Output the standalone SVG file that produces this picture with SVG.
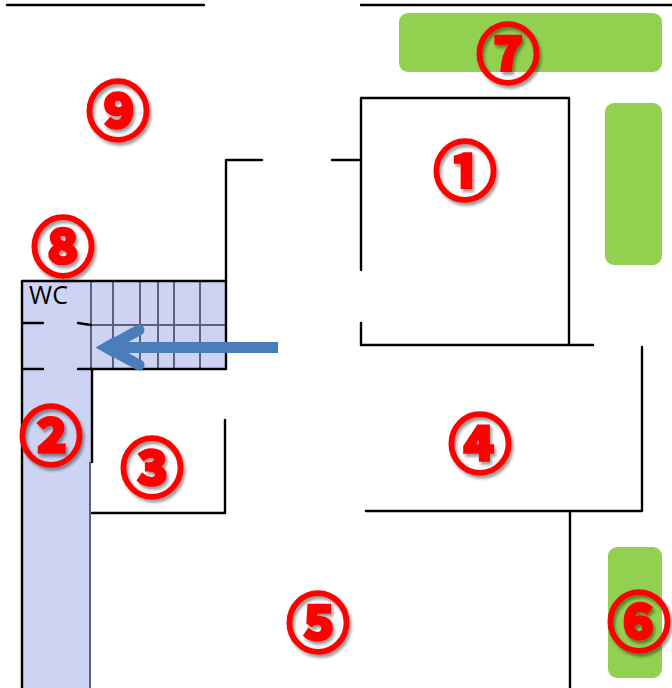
<svg xmlns="http://www.w3.org/2000/svg" width="672" height="688" viewBox="0 0 672 688">
<style>
.w{fill:none;stroke:#000;stroke-width:2.400;stroke-linecap:round;stroke-linejoin:round}
.s{fill:none;stroke:#5f6274;stroke-width:2}
.g{fill:#92d050}
.n{font-family:"Noto Sans CJK JP",sans-serif;font-size:63px;font-weight:700;fill:#ff0000;stroke:#ff0000;stroke-width:3.500;text-anchor:middle;filter:url(#sh)}
</style>
<defs><filter id="sh" x="-20%" y="-20%" width="150%" height="150%"><feDropShadow dx="2" dy="3" stdDeviation="1.5" flood-color="#000" flood-opacity="0.4"/></filter></defs>
<rect width="672" height="688" fill="#fff"/>
<g id="green">
<rect class="g" x="399" y="13" width="263" height="59" rx="9"/>
<rect class="g" x="605" y="103" width="57" height="162" rx="9"/>
<rect class="g" x="608" y="547" width="54" height="131" rx="9"/>
</g>
<g id="corridor">
<rect x="22" y="281" width="69" height="407" fill="#cdd4f3"/>
<rect x="91" y="281" width="134" height="88" fill="#cdd4f3"/>
</g>
<g id="stairs" class="s">
<path d="M91 281V369M113 281V369M140 281V369M158 281V369M174 281V369M200 281V369M91 325H225M90 462V688"/>
</g>
<g id="connectors" class="w">
<path d="M7 5H204M361 5H672"/>
<path d="M361 270V98H569V345M361 323V345H593M642 347V511H366M570 512V688"/>
<path d="M332 160H361M262 160H226V369H78M43 369H22M22 688V281H225M22 323H43M78 323L91 325"/>
<path d="M225 420V513H92M92 369V462"/>
</g>
<g id="arrow" fill="none" stroke="#4a7ebb">
<path d="M278 347.500H112" stroke-width="11"/>
<path d="M139 330L107 347.500L139 365" stroke-width="11" stroke-linecap="round"/>
<path d="M96 347.500L112 338V357Z" fill="#4a7ebb" stroke="none"/>
</g>
<g id="wc"><text x="48.500" y="304" font-family="'Open Sans',sans-serif" font-size="25" fill="#000" text-anchor="middle">WC</text></g>
<g id="n1"><text class="n" x="465" y="194">①</text></g>
<g id="n2"><text class="n" x="51" y="459">②</text></g>
<g id="n3"><text class="n" x="152" y="491">③</text></g>
<g id="n4"><text class="n" x="480" y="467">④</text></g>
<g id="n5"><text class="n" x="318" y="646">⑤</text></g>
<g id="n6"><text class="n" x="639" y="645">⑥</text></g>
<g id="n7"><text class="n" x="508" y="77">⑦</text></g>
<g id="n8"><text class="n" x="63" y="270">⑧</text></g>
<g id="n9"><text class="n" x="118" y="134">⑨</text></g>
</svg>
